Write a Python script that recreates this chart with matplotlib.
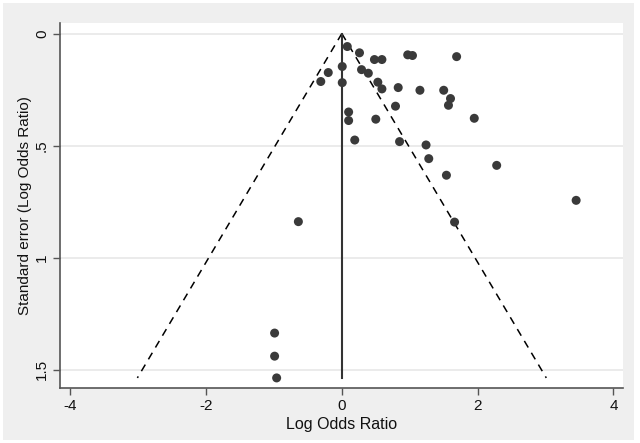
import matplotlib
matplotlib.use("Agg")
import matplotlib.pyplot as plt
import numpy as np

# Study-level estimates
log_or = [0.08, 0.26, 0.97, 1.04, 1.69, 0.48, 0.59, 0.006, 0.29, 0.39,
          -0.20, -0.31, 0.006, 0.53, 0.59, 0.83, 1.15, 1.50, 1.60, 1.57,
          0.79, 0.10, 0.10, 0.50, 1.95, 0.19, 0.85, 1.24, 1.28, 2.28,
          1.54, 3.45, -0.64, 1.66, -0.99, -0.99, -0.96]
se = [0.058, 0.086, 0.095, 0.098, 0.103, 0.116, 0.116, 0.147, 0.161, 0.177,
      0.174, 0.214, 0.219, 0.217, 0.247, 0.241, 0.253, 0.253, 0.290, 0.320,
      0.324, 0.350, 0.388, 0.382, 0.378, 0.475, 0.482, 0.497, 0.558, 0.588,
      0.632, 0.744, 0.839, 0.841, 1.336, 1.439, 1.536]

pooled = 0.0
se_max = 1.536
xticks = [-4, -2, 0, 2, 4]
yticks = [0, 0.5, 1, 1.5]
yticklabels = ["0", ".5", "1", "1.5"]

plt.rcParams['font.family'] = ['Liberation Sans', 'DejaVu Sans']

fig = plt.figure(figsize=(6.4, 4.43), dpi=100)
fig.patch.set_facecolor('white')
# gray graph region
bg = plt.Rectangle((3/640, 3/443), 631/640, 437/443, transform=fig.transFigure,
                   facecolor='#efefef', edgecolor='none', zorder=-10)
fig.patches.append(bg)

ax = fig.add_axes([60/640, 55/443, 563/640, 365/443])
ax.set_facecolor('white')

for t in yticks:
    ax.axhline(t, color='#e8e8e8', lw=1.2, zorder=0)

s_line = np.array([0, se_max])
ax.plot(pooled - 1.96 * s_line, s_line, color='black', lw=1.1, ls=(0, (5, 4)), zorder=2)
ax.plot(pooled + 1.96 * s_line, s_line, color='black', lw=1.1, ls=(0, (5, 4)), zorder=2)
ax.plot([pooled, pooled], [0, se_max], color='#333333', lw=1.5, zorder=2)

ax.scatter(log_or, se, s=42, color='#3a3a3a', edgecolors='none', zorder=3)

ax.set_xlim(-4.15, 4.14)
ax.set_ylim(1.581, -0.047)
ax.set_xticks(xticks)
ax.set_xticklabels([str(v) for v in xticks])
ax.set_yticks(yticks)
ax.set_yticklabels(yticklabels, rotation=90, va='center')

for side in ['top', 'right']:
    ax.spines[side].set_visible(False)
for side in ['left', 'bottom']:
    ax.spines[side].set_color('#555555')
    ax.spines[side].set_linewidth(1.2)
ax.tick_params(axis='both', direction='out', length=5, width=1, color='#555555',
               labelsize=11, labelcolor='#111111', pad=3)

ax.set_xlabel('Log Odds Ratio', fontsize=11.5, color='#111111', labelpad=3)
ax.set_ylabel('Standard error (Log Odds Ratio)', fontsize=11, color='#111111', labelpad=2)

fig.savefig('out.png', dpi=100, facecolor=fig.get_facecolor())
